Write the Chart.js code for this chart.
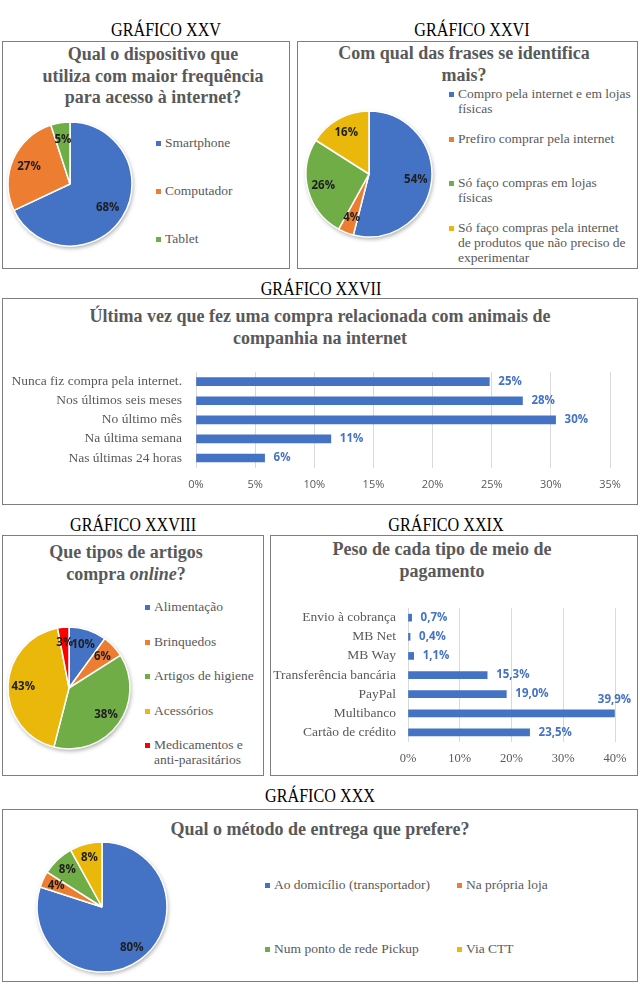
<!DOCTYPE html>
<html>
<head>
<meta charset="utf-8">
<script src="https://cdn.jsdelivr.net/npm/chart.js@4.4.1/dist/chart.umd.min.js"></script>
<style>
body{margin:0;width:640px;height:995px;background:#fff;position:relative;overflow:hidden;font-family:'Liberation Serif','Times New Roman',serif}
.box{position:absolute;border:1px solid #7f7f7f;box-sizing:border-box}
.head{position:absolute;font-size:19px;line-height:22px;color:#000;white-space:nowrap;transform:translateX(-50%) scaleX(0.85)}
.title{position:absolute;font-weight:bold;font-size:18px;line-height:21.5px;color:#595959;text-align:center;white-space:nowrap;transform:translateX(-50%)}
.leg{position:absolute;font-size:13.5px;line-height:15px;color:#595959;white-space:nowrap}
.leg i{position:absolute;width:5px;height:5px;left:-9px;top:6px}
canvas{position:absolute}
</style>
</head>
<body>
<script>
// --- data ---
const dispLabels = ['Smartphone', 'Computador', 'Tablet'];
const dispValues = [68, 27, 5];

const frasesLabels = [['Compro pela internet e em lojas', 'físicas'], 'Prefiro comprar pela internet',
  ['Só faço compras em lojas', 'físicas'], ['Só faço compras pela internet', 'de produtos que não preciso de', 'experimentar']];
const frasesValues = [54, 4, 26, 16];

const ultimaLabels = ['Nunca fiz compra pela internet.', 'Nos últimos seis meses', 'No último mês', 'Na última semana', 'Nas últimas 24 horas'];
const ultimaValues = [24.8, 27.6, 30.4, 11.4, 5.8];

const artigosLabels = ['Alimentação', 'Brinquedos', 'Artigos de higiene', 'Acessórios', ['Medicamentos e', 'anti-parasitários']];
const artigosValues = [10, 6, 38, 43, 3];

const pagLabels = ['Envio à cobrança', 'MB Net', 'MB Way', 'Transferência bancária', 'PayPal', 'Multibanco', 'Cartão de crédito'];
const pagValues = [0.7, 0.4, 1.1, 15.3, 19.0, 39.9, 23.5];

const entregaLabels = ['Ao domicílio (transportador)', 'Na própria loja', 'Num ponto de rede Pickup', 'Via CTT'];
const entregaValues = [80, 4, 8, 8];

const BLUE = '#4472C4', ORANGE = '#ED7D31', GREEN = '#70AD47', GOLD = '#E9B80A', RED = '#FF0000';

Chart.defaults.font.family = "'Liberation Serif', serif";
Chart.defaults.color = '#595959';
Chart.defaults.animation = false;

// --- helpers for page pieces ---
function el(cls, css, html) {
  const d = document.createElement('div');
  d.className = cls;
  Object.assign(d.style, css);
  if (html) d.innerHTML = html;
  document.body.appendChild(d);
  return d;
}
function box(x, y, w, h) { el('box', {left: x + 'px', top: y + 'px', width: w + 'px', height: h + 'px'}); }
function head(txt, cx, cy) { el('head', {left: cx + 'px', top: (cy - 11) + 'px'}, txt); }
function title(html, cx, cy) { el('title', {left: cx + 'px', top: (cy - 10.75) + 'px'}, html); }
function legend(labels, colors, pos) {
  labels.forEach((l, i) => {
    const p = pos(i);
    const txt = Array.isArray(l) ? l.join('<br>') : l;
    el('leg', {left: p[0] + 'px', top: (p[1] - 8) + 'px'}, '<i style="background:' + colors[i] + '"></i>' + txt);
  });
}
function canvas(x, y, w, h) {
  const c = document.createElement('canvas');
  c.width = w; c.height = h;
  c.style.left = x + 'px'; c.style.top = y + 'px';
  document.body.appendChild(c);
  return c;
}

// --- plugins ---
const pieLabels = {
  id: 'pieLabels',
  beforeDatasetsDraw(chart) {
    const a = chart.getDatasetMeta(0).data[0];
    const ctx = chart.ctx;
    ctx.save();
    ctx.shadowColor = 'rgba(0,0,0,0.35)';
    ctx.shadowBlur = 4; ctx.shadowOffsetX = 1; ctx.shadowOffsetY = 2;
    ctx.beginPath(); ctx.arc(a.x, a.y, a.outerRadius, 0, Math.PI * 2);
    ctx.fillStyle = '#fff'; ctx.fill();
    ctx.restore();
  },
  afterDatasetsDraw(chart, args, opts) {
    const ctx = chart.ctx, ds = chart.data.datasets[0];
    ctx.save();
    ctx.font = 'bold 11.5px "Open Sans"';
    ctx.fillStyle = '#1e1e1e';
    ctx.textAlign = 'center'; ctx.textBaseline = 'middle';
    chart.getDatasetMeta(0).data.forEach((a, i) => {
      const mid = (a.startAngle + a.endAngle) / 2;
      const d = a.outerRadius * opts.k;
      ctx.fillText(ds.data[i] + '%', a.x + Math.cos(mid) * d, a.y + Math.sin(mid) * d);
    });
    ctx.restore();
  }
};

const barValues = {
  id: 'barValues',
  afterDatasetsDraw(chart, args, opts) {
    const ctx = chart.ctx, area = chart.chartArea, ds = chart.data.datasets[0];
    ctx.save();
    ctx.font = 'bold 11.5px "Open Sans"';
    ctx.fillStyle = BLUE;
    ctx.textBaseline = 'middle';
    chart.getDatasetMeta(0).data.forEach((bar, i) => {
      const v = ds.data[i];
      const txt = opts.decimals ? v.toFixed(1).replace('.', ',') + '%' : Math.round(v) + '%';
      const w = ctx.measureText(txt).width;
      if (bar.x + 9 + w > area.right) {
        ctx.textAlign = 'center';
        ctx.fillText(txt, bar.x, bar.y - 14);
      } else {
        ctx.textAlign = 'left';
        ctx.fillText(txt, bar.x + 9, bar.y);
      }
    });
    ctx.restore();
  }
};

function pie(cx, cy, r, labels, values, colors, k) {
  const pad = 10;
  const c = canvas(cx - r - pad, cy - r - pad, 2 * (r + pad), 2 * (r + pad));
  return new Chart(c, {
    type: 'pie',
    data: {
      labels: labels,
      datasets: [{data: values, backgroundColor: colors, borderColor: '#fff', borderWidth: 1.5}]
    },
    options: {
      responsive: false,
      radius: r,
      events: [],
      plugins: {legend: {display: false}, tooltip: {enabled: false}, pieLabels: {k: k}}
    },
    plugins: [pieLabels]
  });
}

function hbar(x, y, w, h, a, labels, values, opt) {
  const c = canvas(x, y, w, h);
  return new Chart(c, {
    type: 'bar',
    data: {
      labels: labels,
      datasets: [{data: values, backgroundColor: BLUE, barThickness: opt.thick}]
    },
    options: {
      indexAxis: 'y',
      responsive: false,
      events: [],
      layout: {padding: {top: a.top - y, right: x + w - a.right, left: 0, bottom: 0}},
      scales: {
        y: {
          grid: {display: false, drawTicks: false},
          border: {display: false},
          ticks: {autoSkip: false, padding: opt.ypad, color: '#595959', font: {size: 13.5, family: "'Liberation Serif', serif"}},
          afterFit(s) { s.width = a.left - x; }
        },
        x: {
          min: 0, max: opt.max,
          grid: {color: '#d9d9d9', drawTicks: false},
          border: {display: false},
          ticks: {stepSize: opt.step, padding: opt.xpad, color: '#595959', font: opt.tickFont,
            callback: v => v + '%'},
          afterFit(s) { s.height = y + h - a.bottom; }
        }
      },
      plugins: {legend: {display: false}, tooltip: {enabled: false}, barValues: {decimals: opt.decimals}}
    },
    plugins: [barValues]
  });
}

// --- GRÁFICO XXV ---
head('GRÁFICO XXV', 166, 30);
box(2, 41, 288, 228);
title('Qual o dispositivo que<br>utiliza com maior frequência<br>para acesso à internet?', 153, 55);
pie(70, 184, 62, dispLabels, dispValues, [BLUE, ORANGE, GREEN], 0.72);
legend(dispLabels, [BLUE, ORANGE, GREEN], i => [165, 143 + i * 48]);

// --- GRÁFICO XXVI ---
head('GRÁFICO XXVI', 472, 30);
box(297, 41, 341, 228);
title('Com qual das frases se identifica<br>mais?', 464, 54);
pie(369, 174, 63, frasesLabels, frasesValues, [BLUE, ORANGE, GREEN, GOLD], 0.75);
legend(frasesLabels, [BLUE, ORANGE, GREEN, GOLD], i => [458, 94 + i * 44.7]);

// --- GRÁFICO XXVII ---
head('GRÁFICO XXVII', 321, 289);
box(2, 298, 636, 207);
title('Última vez que fez uma compra relacionada com animais de<br>companhia na internet', 320, 317);
hbar(5, 350, 630, 150, {left: 196, right: 610, top: 360, bottom: 467.5}, ultimaLabels, ultimaValues,
  {thick: 8, max: 35, step: 5, ypad: 14, xpad: 11, decimals: 0, tickFont: {size: 11, family: "'Open Sans', sans-serif"}});

// --- GRÁFICO XXVIII ---
head('GRÁFICO XXVIII', 133, 525);
box(2, 535, 262, 241);
title('Que tipos de artigos<br>compra <i>online</i>?', 126, 553);
pie(69, 688, 61, artigosLabels, artigosValues, [BLUE, ORANGE, GREEN, GOLD, RED], 0.75);
legend(artigosLabels, [BLUE, ORANGE, GREEN, GOLD, RED], i => [154, 607 + i * 34.5]);

// --- GRÁFICO XXIX ---
head('GRÁFICO XXIX', 446, 525);
box(270, 535, 368, 241);
title('Peso de cada tipo de meio de<br>pagamento', 442, 550);
hbar(272, 588, 364, 180, {left: 408, right: 615, top: 597, bottom: 742}, pagLabels, pagValues,
  {thick: 7, max: 40, step: 10, ypad: 12, xpad: 9, decimals: 1, tickFont: {size: 12.5, family: "'Liberation Serif', serif"}});

// --- GRÁFICO XXX ---
head('GRÁFICO XXX', 320, 796);
box(2, 809, 636, 173);
title('Qual o método de entrega que prefere?', 320, 830);
pie(102, 907, 65, entregaLabels, entregaValues, [BLUE, ORANGE, GREEN, GOLD], 0.78);
legend(entregaLabels, [BLUE, ORANGE, GREEN, GOLD], i => [[274, 466][i % 2], [885, 949][Math.floor(i / 2)]]);
</script>
</body>
</html>
